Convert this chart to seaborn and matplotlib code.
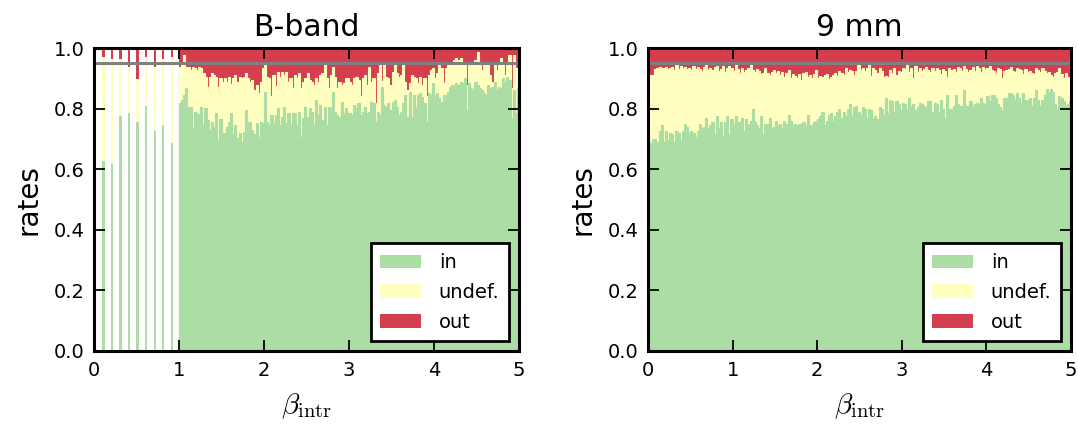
import numpy as np
import pandas as pd
import matplotlib
matplotlib.use("Agg")
import matplotlib.pyplot as plt
import seaborn as sns
from matplotlib.patches import Patch

sns.set_theme(style="white")
plt.rcParams['font.family'] = ['DejaVu Sans']
plt.rcParams['mathtext.fontset'] = 'cm'
plt.rcParams['text.color'] = 'black'
plt.rcParams['axes.labelcolor'] = 'black'
plt.rcParams['xtick.color'] = 'black'
plt.rcParams['ytick.color'] = 'black'

# ---------------- data ----------------
panel_titles = ["B-band", "9 mm"]
legend_labels = ["in", "undef.", "out"]
palette = {"in": "#abdda4", "undef.": "#ffffbf", "out": "#d53e4f"}
x_ticks = [0, 1, 2, 3, 4, 5]
y_ticks = [0.0, 0.2, 0.4, 0.6, 0.8, 1.0]
threshold = 0.95
bin_width = 0.025

# B-band: sparse grid below beta = 1
bband_thin_beta = [0.1, 0.2, 0.3, 0.4, 0.5, 0.6, 0.7, 0.8, 0.9]
bband_thin_in = [0.628, 0.617, 0.775, 0.786, 0.757, 0.81, 0.727, 0.746, 0.686]
bband_thin_out = [0.031, 0.037, 0.037, 0.062, 0.102, 0.031, 0.062, 0.037, 0.031]

# B-band: dense grid from beta = 1 to 5 (step 0.025)
bband_dense_start = 1.0
bband_in = [
    0.817, 0.828, 0.845, 0.869, 0.806, 0.806, 0.735, 0.79, 0.785, 0.779,
    0.806, 0.746, 0.801, 0.762, 0.729, 0.757, 0.74, 0.785, 0.696, 0.766,
    0.718, 0.718, 0.74, 0.755, 0.785, 0.715, 0.746, 0.702, 0.718, 0.689,
    0.724, 0.795, 0.757, 0.757, 0.729, 0.715, 0.751, 0.707, 0.757, 0.751,
    0.856, 0.757, 0.746, 0.779, 0.751, 0.779, 0.801, 0.746, 0.773, 0.806,
    0.751, 0.785, 0.746, 0.785,
    0.785, 0.746, 0.79, 0.707, 0.768, 0.806, 0.773, 0.801, 0.79, 0.746,
    0.828, 0.779, 0.812, 0.762, 0.806, 0.746, 0.806, 0.801, 0.856, 0.79,
    0.779, 0.773, 0.823, 0.785, 0.801, 0.785, 0.785, 0.779, 0.812, 0.801,
    0.817, 0.779, 0.79, 0.806, 0.785, 0.79, 0.823, 0.817, 0.757, 0.79,
    0.779, 0.87, 0.812, 0.806, 0.817, 0.795, 0.823, 0.828, 0.806, 0.779,
    0.79, 0.817, 0.845, 0.773, 0.856, 0.768,
    0.845, 0.801, 0.845, 0.85, 0.839, 0.817, 0.757, 0.85, 0.845, 0.883,
    0.845, 0.85, 0.834, 0.823, 0.845, 0.845, 0.856, 0.872, 0.878, 0.878,
    0.883, 0.878, 0.889, 0.883, 0.90, 0.795, 0.883, 0.867, 0.861, 0.889,
    0.878, 0.867, 0.861, 0.85, 0.845, 0.878, 0.867, 0.872, 0.889, 0.861,
    0.872, 0.867, 0.90, 0.889, 0.905, 0.894, 0.768, 0.861, 0.785, 0.867,
]
bband_out = [
    0.062, 0.056, 0.023, 0.062, 0.062, 0.072, 0.062, 0.067, 0.072, 0.062,
    0.067, 0.084, 0.095, 0.13, 0.095, 0.084, 0.089, 0.095, 0.13, 0.10,
    0.111, 0.10, 0.111, 0.095, 0.12, 0.10, 0.089, 0.111, 0.095, 0.10,
    0.095, 0.084, 0.10, 0.111, 0.105, 0.138, 0.122, 0.15, 0.111, 0.067,
    0.056, 0.095, 0.10, 0.16, 0.089, 0.127, 0.078, 0.095, 0.078, 0.089,
    0.078, 0.111, 0.10, 0.133,
    0.089, 0.10, 0.084, 0.133, 0.111, 0.10, 0.084, 0.105, 0.111, 0.122,
    0.10, 0.111, 0.089, 0.084, 0.05, 0.10, 0.133, 0.089, 0.062, 0.095,
    0.133, 0.111, 0.122, 0.117, 0.10, 0.10, 0.111, 0.122, 0.10, 0.095,
    0.105, 0.16, 0.10, 0.089, 0.122, 0.062, 0.111, 0.10, 0.18, 0.084,
    0.056, 0.11, 0.05, 0.095, 0.10, 0.122, 0.078, 0.056, 0.084, 0.095,
    0.089, 0.05, 0.111, 0.138, 0.117, 0.089,
    0.095, 0.10, 0.117, 0.095, 0.122, 0.10, 0.16, 0.089, 0.072, 0.067,
    0.10, 0.084, 0.056, 0.067, 0.117, 0.067, 0.056, 0.056, 0.05, 0.04,
    0.034, 0.04, 0.034, 0.056, 0.05, 0.122, 0.056, 0.05, 0.056, 0.04,
    0.012, 0.056, 0.072, 0.056, 0.056, 0.05, 0.089, 0.111, 0.056, 0.072,
    0.05, 0.034, 0.056, 0.089, 0.05, 0.023, 0.133, 0.023, 0.067, 0.089,
]

# 9 mm: dense grid from beta = 0 to 5 (step 0.025)
mm9_start = 0.0
mm9_in = [
    0.69, 0.685, 0.70, 0.70, 0.69, 0.725, 0.745, 0.69, 0.725, 0.695,
    0.72, 0.715, 0.69, 0.725, 0.72, 0.695, 0.725, 0.75, 0.74, 0.72,
    0.725, 0.72, 0.705, 0.725, 0.75, 0.735, 0.74, 0.77, 0.735, 0.745,
    0.755, 0.715, 0.775, 0.735, 0.755, 0.71, 0.755, 0.775, 0.715, 0.765,
    0.75, 0.775, 0.755, 0.755, 0.77, 0.725, 0.765, 0.75, 0.76, 0.80,
    0.755, 0.745, 0.735, 0.775, 0.715, 0.75, 0.75, 0.77, 0.735, 0.74,
    0.76, 0.745, 0.75, 0.735, 0.76, 0.75,
    0.78, 0.76, 0.745, 0.75, 0.745, 0.75, 0.75, 0.755, 0.745, 0.78,
    0.745, 0.745, 0.755, 0.76, 0.765, 0.775, 0.79, 0.745, 0.76, 0.78,
    0.785, 0.76, 0.775, 0.79, 0.80, 0.77, 0.79, 0.775, 0.80, 0.815,
    0.775, 0.805, 0.81, 0.79, 0.78, 0.805, 0.80, 0.77, 0.80, 0.795,
    0.77, 0.775, 0.765, 0.805, 0.80, 0.78, 0.835, 0.785, 0.83, 0.825,
    0.79, 0.825, 0.815, 0.795, 0.82, 0.815, 0.80, 0.835, 0.81, 0.815,
    0.795, 0.805, 0.82, 0.815, 0.81, 0.805, 0.825,
    0.825, 0.79, 0.82, 0.815, 0.79, 0.83, 0.80, 0.77, 0.845, 0.80,
    0.80, 0.81, 0.845, 0.815, 0.81, 0.81, 0.86, 0.81, 0.81, 0.825,
    0.805, 0.815, 0.82, 0.815, 0.835, 0.82, 0.815, 0.84, 0.825, 0.845,
    0.845, 0.835, 0.815, 0.805, 0.795, 0.835, 0.835, 0.85, 0.85, 0.845,
    0.83, 0.85, 0.835, 0.82, 0.85, 0.83, 0.83, 0.835, 0.81, 0.835,
    0.86, 0.83, 0.81, 0.83, 0.845, 0.865, 0.85, 0.865, 0.855, 0.815,
    0.80, 0.84, 0.835, 0.825, 0.81, 0.815, 0.825,
]
mm9_out = [
    0.089, 0.089, 0.089, 0.069, 0.065, 0.062, 0.065, 0.067, 0.062, 0.069,
    0.065, 0.062, 0.072, 0.056, 0.069, 0.058, 0.065, 0.062, 0.069, 0.065,
    0.072, 0.058, 0.069, 0.062, 0.069, 0.076, 0.062, 0.056, 0.072, 0.067,
    0.072, 0.062, 0.058, 0.076, 0.069, 0.058, 0.078, 0.067, 0.058, 0.065,
    0.076, 0.056, 0.069, 0.084, 0.065, 0.078, 0.072, 0.067, 0.056, 0.072,
    0.078, 0.069, 0.076, 0.087, 0.084, 0.067, 0.084, 0.089, 0.078, 0.072,
    0.084, 0.076, 0.089, 0.08, 0.095, 0.084,
    0.072, 0.098, 0.087, 0.091, 0.10, 0.087, 0.105, 0.084, 0.078, 0.095,
    0.089, 0.098, 0.087, 0.072, 0.10, 0.091, 0.095, 0.089, 0.087, 0.103,
    0.095, 0.089, 0.084, 0.091, 0.076, 0.084, 0.089, 0.065, 0.078, 0.072,
    0.076, 0.089, 0.076, 0.056, 0.072, 0.067, 0.076, 0.065, 0.05, 0.091,
    0.067, 0.072, 0.084, 0.067, 0.076, 0.095, 0.091, 0.095, 0.072, 0.084,
    0.065, 0.089, 0.076, 0.08, 0.067, 0.069, 0.056, 0.078, 0.065, 0.10,
    0.058, 0.078, 0.067, 0.076, 0.069, 0.062, 0.072,
    0.08, 0.067, 0.076, 0.065, 0.072, 0.087, 0.069, 0.076, 0.095, 0.065,
    0.072, 0.069, 0.078, 0.062, 0.067, 0.076, 0.058, 0.069, 0.078, 0.072,
    0.062, 0.076, 0.058, 0.067, 0.078, 0.062, 0.069, 0.067, 0.058, 0.072,
    0.076, 0.084, 0.065, 0.069, 0.098, 0.076, 0.072, 0.069, 0.062, 0.076,
    0.08, 0.065, 0.069, 0.072, 0.087, 0.069, 0.08, 0.076, 0.084, 0.087,
    0.067, 0.072, 0.078, 0.067, 0.076, 0.084, 0.078, 0.089, 0.095, 0.084,
    0.08, 0.067, 0.087, 0.10, 0.084, 0.095, 0.105,
]


def make_frame(beta, rate_in, rate_out):
    beta = np.asarray(beta, dtype=float)
    rate_in = np.asarray(rate_in, dtype=float)
    rate_out = np.asarray(rate_out, dtype=float)
    undef = 1.0 - rate_in - rate_out
    return pd.DataFrame({
        "beta": beta + bin_width / 2,   # bin centre
        "top_in": rate_in,
        "top_undef": rate_in + undef,
        "top_out": rate_in + undef + rate_out,
    })


df_b_thin = make_frame(bband_thin_beta, bband_thin_in, bband_thin_out)
df_b_dense = make_frame(bband_dense_start + bin_width * np.arange(len(bband_in)),
                        bband_in, bband_out)
df_9 = make_frame(mm9_start + bin_width * np.arange(len(mm9_in)), mm9_in, mm9_out)

# ---------------- figure ----------------
W, H = 1078, 430
fig = plt.figure(figsize=(W / 100, H / 100), dpi=100)
ax1 = fig.add_axes([94 / W, 1 - 351 / H, 425 / W, 303 / H])
ax2 = fig.add_axes([648 / W, 1 - 351 / H, 423 / W, 303 / H])

layers = [("out", "top_out"), ("undef.", "top_undef"), ("in", "top_in")]


def draw_stack(ax, df, lw):
    for name, col in layers:
        sns.histplot(data=df, x="beta", weights=col, binwidth=bin_width,
                     binrange=(0, 5), ax=ax,
                     color=palette[name], alpha=1, linewidth=lw,
                     edgecolor=palette[name], element="bars", fill=True)


draw_stack(ax1, df_b_thin, 0)
draw_stack(ax1, df_b_dense, 0.8)
draw_stack(ax2, df_9, 0.8)

for ax, title in [(ax1, panel_titles[0]), (ax2, panel_titles[1])]:
    ax.set_axisbelow(False)
    ax.axhline(threshold, color="#808080", lw=2.2, zorder=5)
    ax.set_xlim(0, 5)
    ax.set_ylim(0, 1)
    ax.set_xticks(x_ticks)
    ax.set_yticks(y_ticks)
    ax.set_yticklabels([f"{v:.1f}" for v in y_ticks])
    ax.tick_params(direction="in", length=8, width=1.3, top=True, right=True,
                   bottom=True, left=True, labelsize=14, pad=7, colors="black")
    for s in ax.spines.values():
        s.set_color("black")
        s.set_linewidth(2.2)
        s.set_zorder(10)
    ax.set_title(title, fontsize=21.5, pad=9)
    ax.set_ylabel("rates", fontsize=20, labelpad=8)
    ax.set_xlabel(r"$\beta_{\rm intr}$", fontsize=21, labelpad=8)
    handles = [Patch(facecolor=palette[k], edgecolor="none", label=k) for k in legend_labels]
    leg = ax.legend(handles=handles, loc="lower right", fontsize=14,
                    frameon=True, fancybox=False, framealpha=1,
                    handlelength=2.1, handletextpad=0.9, labelspacing=0.55,
                    borderpad=0.5)
    leg.get_frame().set_edgecolor("black")
    leg.get_frame().set_linewidth(2)
    leg.set_zorder(20)

fig.savefig("out.png", dpi=100)
